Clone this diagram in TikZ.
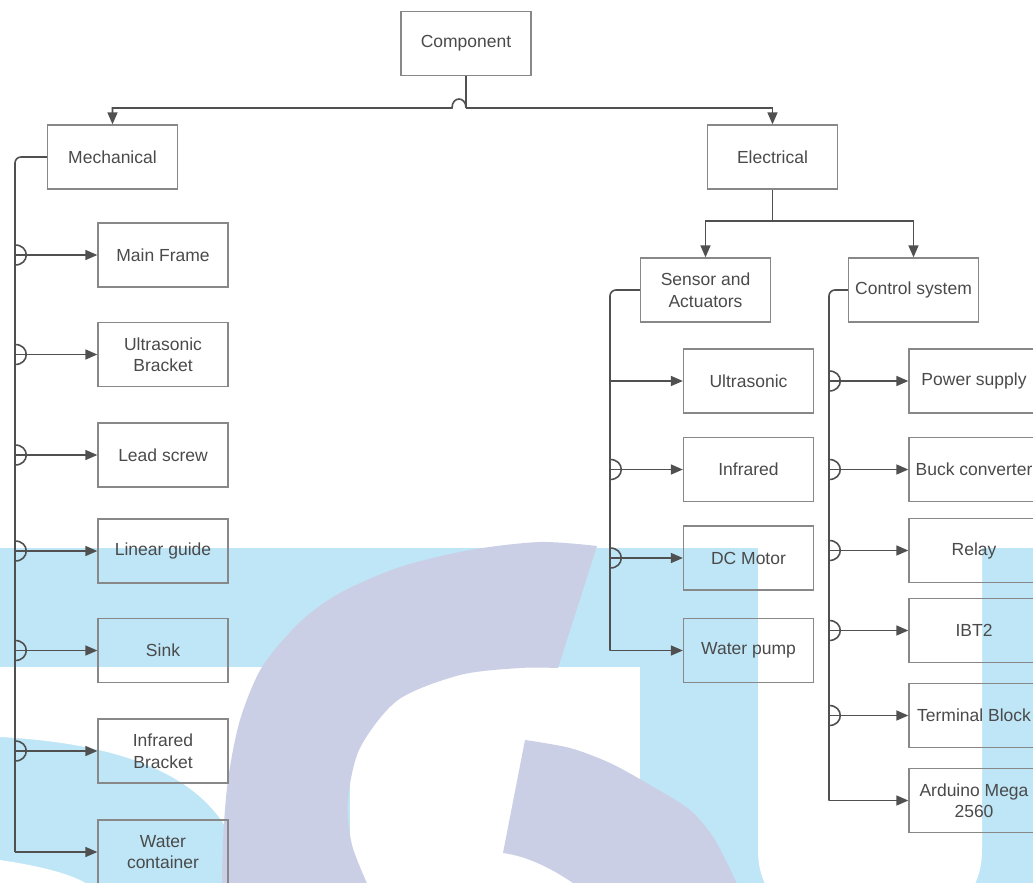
\documentclass[tikz,border=0pt]{standalone}
\usepackage{fontspec}
\setmainfont{Liberation Sans}
\usetikzlibrary{arrows.meta,calc}
\definecolor{wmblue}{HTML}{BEE6F7}
\definecolor{wmlav}{HTML}{CBCFE5}
\definecolor{boxc}{HTML}{888888}
\definecolor{linec}{HTML}{505050}
\definecolor{txtc}{HTML}{4A4A4A}
\tikzset{
  box/.style={draw=boxc, line width=1.3pt, minimum width=130pt, minimum height=64pt,
    inner sep=0pt, align=center, text=txtc, font=\fontsize{17.5}{21.5}\selectfont},
  ln/.style={draw=linec, line width=1.6pt},
  arr/.style={ln, -{Triangle[length=12pt,width=10pt]}},
}
\newcommand{\hop}[1]{\draw[ln] ($(#1)+(0,-10)$) .. controls ($(#1)+(15,-10)$) and ($(#1)+(15,10)$) .. ($(#1)+(0,10)$);}
\begin{document}
\begin{tikzpicture}[x=1pt,y=-1pt]
\useasboundingbox (0,0) rectangle (1033,883);
\clip (0,0) rectangle (1033,883);
% watermark background
\fill[wmblue] (0,548) rectangle (1040,890);
\fill[white] (0,667) -- (300,667) -- (300,800) -- (240,860) .. controls (220,790) and (150,745) .. (0,737) -- cycle;
\fill[white] (0,860) .. controls (40,866) and (80,875) .. (95,890) -- (0,890) -- cycle;
\fill[white] (350,667) rectangle (640,890);
\fill[white] (758,540) -- (758,850) .. controls (758,905) and (800,925) .. (870,925) .. controls (940,925) and (982,905) .. (982,850) -- (982,540) -- cycle;
\fill[wmlav] plot[smooth] coordinates {(597,546) (540,542) (470,550) (400,567) (340,593) (300,622) (262,667) (240,720) (228,780) (223,840) (222,890)}
  -- plot[smooth] coordinates {(370,890) (352,845) (348,800) (360,748) (398,700) (460,675) (520,668) (558,668)} -- cycle;
\fill[wmlav] (503,853) -- plot[smooth] coordinates {(525,740) (570,748) (610,763) (650,785) (690,810) (715,840) (740,890)}
  -- (583,890) .. controls (550,866) and (525,856) .. (503,853) -- cycle;
% nodes
\node[box] (comp) at (466,43.5) {Component};
\node[box] (mech) at (112.5,157) {Mechanical};
\node[box] (elec) at (772.5,157) {Electrical};
\node[box] (sens) at (705.5,290) {Sensor and\\Actuators};
\node[box] (ctrl) at (913.5,290) {Control system};
\node[box] (mf) at (163,255) {Main Frame};
\node[box] (ub) at (163,354.5) {Ultrasonic\\Bracket};
\node[box] (ls) at (163,455) {Lead screw};
\node[box] (lg) at (163,551) {Linear guide};
\node[box] (sk) at (163,650.5) {Sink};
\node[box] (ib) at (163,751) {Infrared\\Bracket};
\node[box] (wc) at (163,852) {Water\\container};
\node[box] (us) at (748.5,381) {Ultrasonic};
\node[box] (ir) at (748.5,469.5) {Infrared};
\node[box] (dc) at (748.5,558) {DC Motor};
\node[box] (wp) at (748.5,650.5) {Water pump};
\node[box] (ps) at (974,381) {Power supply};
\node[box] (bc) at (974,469.5) {Buck converter};
\node[box] (rl) at (974,550.5) {Relay};
\node[box] (ibt) at (974,630.5) {IBT2};
\node[box] (tb) at (974,715.5) {Terminal Block};
\node[box] (ar) at (974,800.5) {Arduino Mega\\2560};
% top level
\coordinate (cj) at (466,108);
\coordinate (cj2) at (452,108);
\draw[ln] (comp.south) -- (cj);
\draw[arr] (cj) -| (elec.north);
\draw[arr] (cj) .. controls (466,96) and (452,96) .. (cj2) -| (mech.north);
% electrical split
\coordinate (ej) at (772.5,221);
\draw[ln] (elec.south) -- (ej);
\draw[arr] (ej) -| (sens.north);
\draw[arr] (ej) -| (ctrl.north);
% mechanical branch
\coordinate (mt) at (15,157);
\draw[ln, rounded corners=6pt] (mech.west) -- (mt) -- (mt |- wc.west);
\foreach \n in {mf,ub,ls,lg,sk,ib,wc} {
  \coordinate (j\n) at (mt |- \n.west);
  \draw[arr] (j\n) -- (\n.west);
}
\foreach \n in {mf,ub,ls,lg,sk,ib} { \hop{j\n} }
% sensor branch
\coordinate (st) at (610,290);
\draw[ln, rounded corners=6pt] (sens.west) -- (st) -- (st |- wp.west);
\foreach \n in {us,ir,dc,wp} {
  \coordinate (j\n) at (st |- \n.west);
  \draw[arr] (j\n) -- (\n.west);
}
\foreach \n in {ir,dc} { \hop{j\n} }
% control branch
\coordinate (ct) at (829,290);
\draw[ln, rounded corners=6pt] (ctrl.west) -- (ct) -- (ct |- ar.west);
\foreach \n in {ps,bc,rl,ibt,tb,ar} {
  \coordinate (j\n) at (ct |- \n.west);
  \draw[arr] (j\n) -- (\n.west);
}
\foreach \n in {ps,bc,rl,ibt,tb} { \hop{j\n} }
\end{tikzpicture}
\end{document}
